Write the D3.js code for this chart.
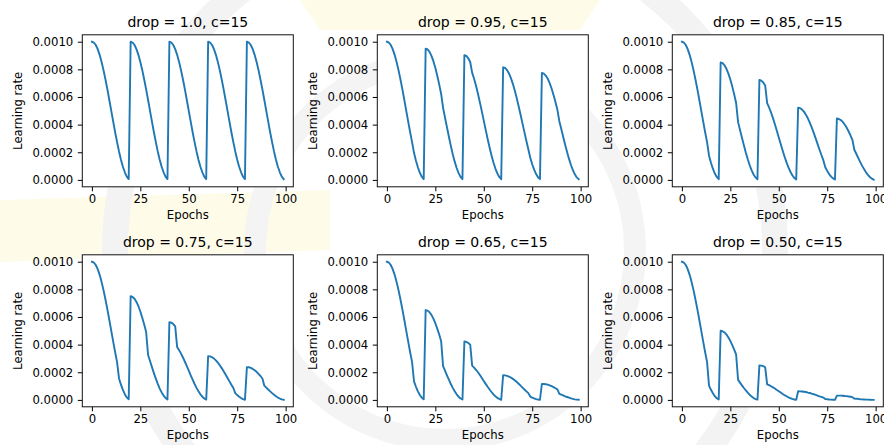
<!DOCTYPE html>
<html>
<head>
<meta charset="utf-8">
<script src="https://cdn.jsdelivr.net/npm/d3@7"></script>
<style>
  html, body { margin: 0; padding: 0; background: #ffffff; }
  svg { display: block; }
  text { font-family: "DejaVu Sans", sans-serif; fill: #000; }
</style>
</head>
<body>
<svg id="chart" width="884" height="445"></svg>
<script>
// Step-decayed cosine learning-rate schedules (restart every 20 epochs, drop every c=15 epochs).
// Learning-rate values below are stored in units of 1e-3.
const LR_UNIT = 1e-3;

const titles = [
  "drop = 1.0, c=15", "drop = 0.95, c=15", "drop = 0.85, c=15",
  "drop = 0.75, c=15", "drop = 0.65, c=15", "drop = 0.50, c=15"
];

const lrDrop100 = [
  1.000, .994, .976, .946, .905, .854, .794, .727, .655, .578, .500, .422, .345, .273, .206, .146, .095, .055, .024, .006,
  1.000, .994, .976, .946, .905, .854, .794, .727, .655, .578, .500, .422, .345, .273, .206, .146, .095, .055, .024, .006,
  1.000, .994, .976, .946, .905, .854, .794, .727, .655, .578, .500, .422, .345, .273, .206, .146, .095, .055, .024, .006,
  1.000, .994, .976, .946, .905, .854, .794, .727, .655, .578, .500, .422, .345, .273, .206, .146, .095, .055, .024, .006,
  1.000, .994, .976, .946, .905, .854, .794, .727, .655, .578, .500, .422, .345, .273, .206, .146, .095, .055, .024, .006
];
const lrDrop095 = [
  1.000, .994, .976, .946, .905, .854, .794, .727, .655, .578, .500, .422, .345, .273, .196, .139, .091, .052, .023, .006,
  .950, .944, .927, .898, .859, .811, .754, .691, .622, .522, .451, .381, .312, .246, .186, .132, .086, .049, .022, .006,
  .903, .897, .880, .853, .776, .732, .681, .623, .561, .496, .429, .362, .296, .234, .177, .126, .082, .047, .021, .005,
  .815, .810, .795, .770, .737, .695, .647, .592, .533, .471, .407, .344, .281, .222, .160, .113, .074, .042, .019, .005,
  .774, .769, .755, .732, .700, .661, .614, .563, .507, .425, .368, .310, .254, .201, .152, .108, .070, .040, .018, .005
];
const lrDrop085 = [
  1.000, .994, .976, .946, .905, .854, .794, .727, .655, .578, .500, .422, .345, .273, .175, .124, .081, .046, .021, .005,
  .850, .845, .829, .804, .769, .726, .675, .618, .556, .418, .361, .305, .250, .197, .149, .106, .069, .039, .018, .004,
  .723, .718, .705, .683, .556, .524, .488, .447, .402, .355, .307, .259, .212, .168, .127, .090, .059, .034, .015, .003,
  .522, .519, .509, .494, .472, .446, .414, .380, .342, .302, .261, .220, .180, .143, .091, .065, .042, .024, .011, .003,
  .444, .441, .433, .420, .401, .379, .352, .323, .290, .218, .189, .159, .130, .103, .078, .055, .036, .021, .009, .002
];
const lrDrop075 = [
  1.000, .994, .976, .946, .905, .854, .794, .727, .655, .578, .500, .422, .345, .273, .155, .110, .072, .041, .018, .005,
  .750, .745, .732, .709, .678, .640, .595, .545, .491, .325, .281, .237, .194, .154, .116, .082, .054, .031, .014, .003,
  .563, .559, .549, .532, .382, .360, .335, .307, .276, .244, .211, .178, .146, .115, .087, .062, .040, .023, .010, .002,
  .316, .315, .309, .299, .286, .270, .251, .230, .207, .183, .158, .134, .109, .086, .049, .035, .023, .013, .006, .001,
  .237, .236, .232, .224, .215, .203, .188, .173, .155, .103, .089, .075, .062, .049, .037, .026, .017, .010, .004, .001
];
const lrDrop065 = [
  1.000, .994, .976, .946, .905, .854, .794, .727, .655, .578, .500, .422, .345, .273, .134, .095, .062, .035, .016, .004,
  .650, .646, .634, .615, .588, .555, .516, .473, .425, .244, .211, .178, .146, .115, .087, .062, .040, .023, .010, .003,
  .423, .420, .412, .400, .248, .234, .218, .200, .180, .159, .137, .116, .095, .075, .057, .040, .026, .015, .007, .001,
  .179, .177, .174, .169, .162, .152, .142, .130, .117, .103, .089, .075, .062, .049, .024, .017, .011, .006, .003, .001,
  .116, .115, .113, .110, .105, .099, .092, .084, .076, .044, .038, .032, .026, .021, .016, .011, .007, .004, .002, .001
];
const lrDrop050 = [
  1.000, .994, .976, .946, .905, .854, .794, .727, .655, .578, .500, .422, .345, .273, .103, .073, .048, .027, .012, .003,
  .500, .497, .488, .473, .452, .427, .397, .364, .327, .145, .125, .105, .086, .068, .052, .037, .024, .014, .006, .002,
  .250, .248, .244, .236, .113, .107, .099, .091, .082, .072, .063, .053, .043, .034, .026, .018, .012, .007, .003, .000,
  .063, .062, .061, .059, .057, .053, .050, .045, .041, .036, .031, .026, .022, .017, .006, .005, .003, .002, .001, .000,
  .031, .031, .031, .030, .028, .027, .025, .023, .020, .009, .008, .007, .005, .004, .003, .002, .002, .001, .000, .000
];

const series = [lrDrop100, lrDrop095, lrDrop085, lrDrop075, lrDrop065, lrDrop050];
const xTicks = [0, 25, 50, 75, 100];
const yTicks = [0, 0.0002, 0.0004, 0.0006, 0.0008, 0.0010];

const svg = d3.select("#chart");

// faint artwork behind the panels
const bg = svg.append("g");
bg.append("path")
  .attr("d", "M0,200 L330,190 L330,250 L0,262 Z")
  .attr("fill", "#fefce9");
bg.append("path")
  .attr("d", "M300,0 L600,0 L580,30 L320,30 Z")
  .attr("fill", "#fefce9");
bg.append("circle")
  .attr("cx", 445).attr("cy", 250).attr("r", 330)
  .attr("fill", "none").attr("stroke", "#f3f3f3").attr("stroke-width", 26);
bg.append("circle")
  .attr("cx", 445).attr("cy", 250).attr("r", 190)
  .attr("fill", "none").attr("stroke", "#f4f4f4").attr("stroke-width", 22);

// panel layout
const colLeft = [82.3, 377.3, 672.3];
const rowTop = [34.8, 254.8];
const pw = 211, ph = 152;

series.forEach((vals, i) => {
  const left = colLeft[i % 3];
  const top = rowTop[Math.floor(i / 3)];
  const g = svg.append("g");

  const x = d3.scaleLinear().domain([-4.95, 103.95]).range([left, left + pw]);
  const y = d3.scaleLinear().domain([-0.00005, 0.00105]).range([top + ph, top]);

  const pts = vals.map((v, e) => [e, v * LR_UNIT]);

  g.append("rect")
    .attr("x", left).attr("y", top).attr("width", pw).attr("height", ph)
    .attr("fill", "#ffffff");

  const line = d3.line().x(d => x(d[0])).y(d => y(d[1]));
  g.append("path")
    .datum(pts)
    .attr("d", line)
    .attr("fill", "none")
    .attr("stroke", "#1f77b4")
    .attr("stroke-width", 1.9)
    .attr("stroke-linejoin", "round")
    .attr("stroke-linecap", "square");

  const xAxis = d3.axisBottom(x).tickValues(xTicks).tickSize(4.5).tickPadding(3.5)
    .tickFormat(d3.format("d"));
  const yAxis = d3.axisLeft(y).tickValues(yTicks).tickSize(4.5).tickPadding(4.5)
    .tickFormat(d => d.toFixed(4));

  const gx = g.append("g").attr("transform", `translate(0,${top + ph})`).call(xAxis);
  const gy = g.append("g").attr("transform", `translate(${left},0)`).call(yAxis);
  [gx, gy].forEach(a => {
    a.select(".domain").remove();
    a.selectAll(".tick line").attr("stroke", "#000").attr("stroke-width", 1);
    a.selectAll(".tick text")
      .attr("font-family", "DejaVu Sans, sans-serif")
      .attr("font-size", 11.7)
      .attr("fill", "#222");
  });

  // frame
  g.append("rect")
    .attr("x", left).attr("y", top).attr("width", pw).attr("height", ph)
    .attr("fill", "none").attr("stroke", "#111").attr("stroke-width", 1);

  g.append("text")
    .attr("x", left + pw / 2).attr("y", top - 7.5)
    .attr("text-anchor", "middle")
    .attr("font-size", 14)
    .text(titles[i]);

  g.append("text")
    .attr("x", left + pw / 2).attr("y", top + ph + 32.5)
    .attr("text-anchor", "middle")
    .attr("font-size", 11.7)
    .attr("fill", "#222")
    .text("Epochs");

  g.append("text")
    .attr("transform", `translate(${left - 60},${top + ph / 2}) rotate(-90)`)
    .attr("text-anchor", "middle")
    .attr("font-size", 11.7)
    .attr("fill", "#222")
    .text("Learning rate");
});
</script>
</body>
</html>
